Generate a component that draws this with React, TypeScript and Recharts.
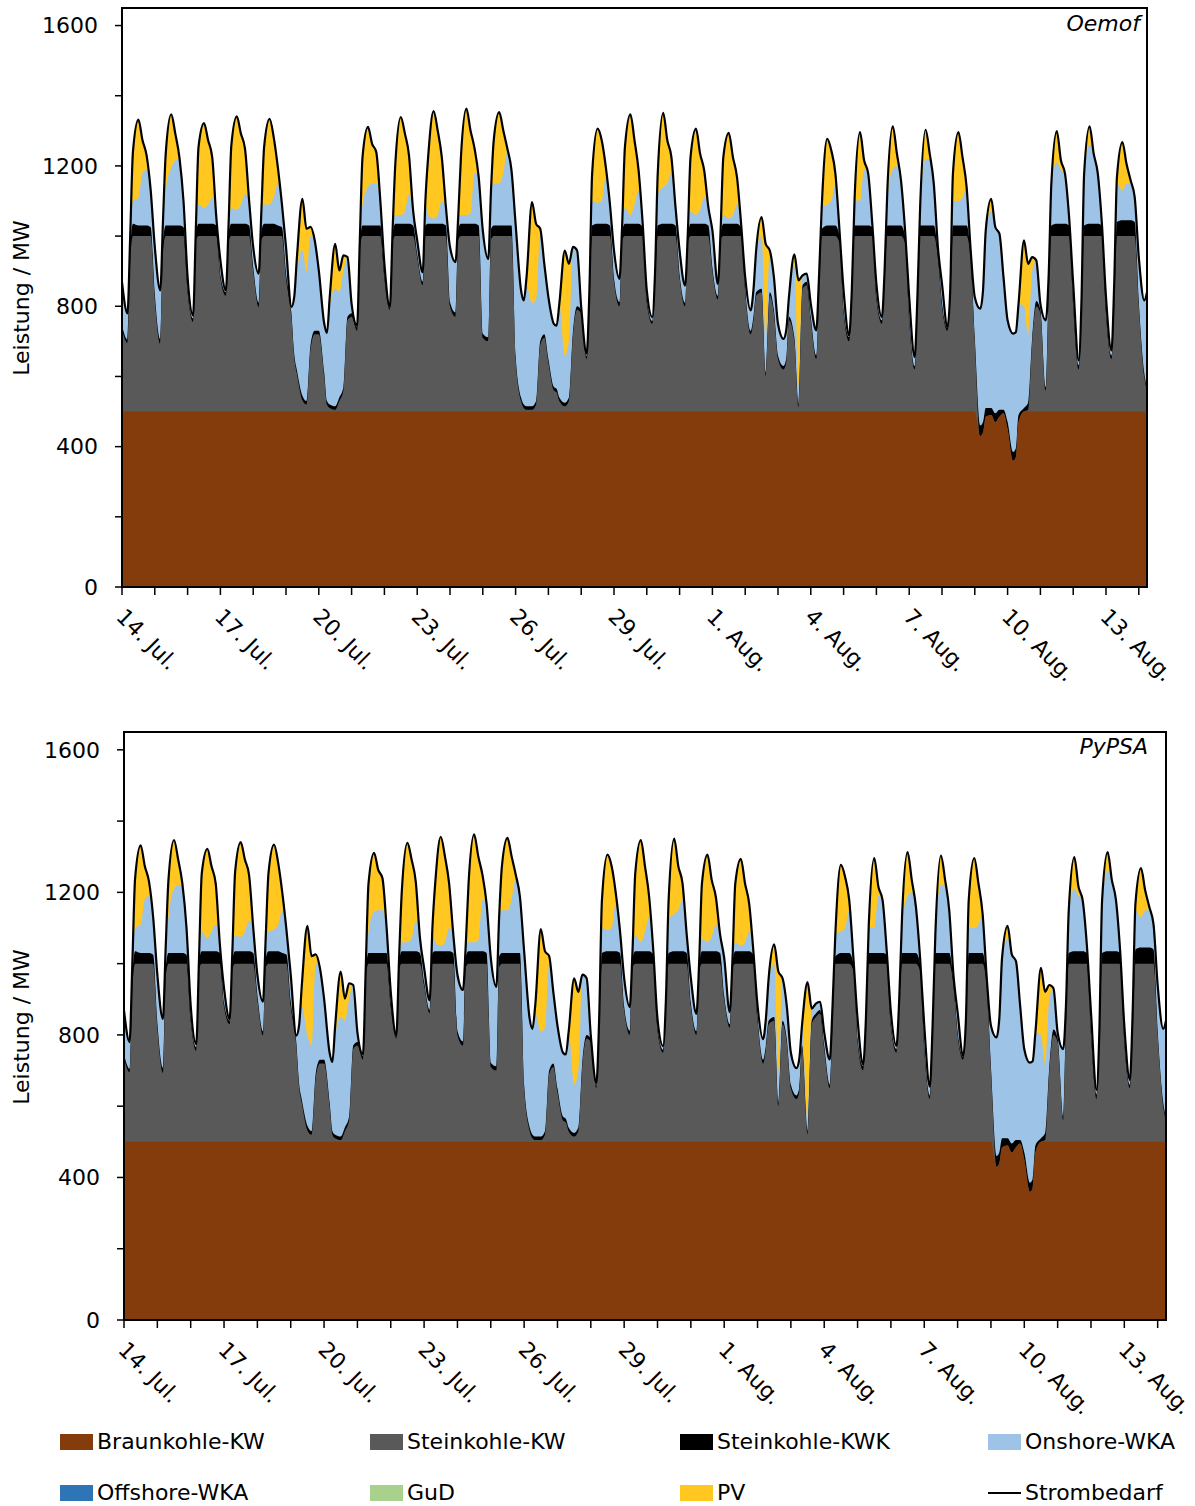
import { Area, ComposedChart, Line, ReferenceArea, XAxis, YAxis } from 'recharts';

// Sample hours inside each day (read at these hours from the reference)
const sampleHours = [0, 4, 6, 8, 12, 15, 18, 21];
const dayCount = 31; // 14. Jul. .. 13. Aug.
const lastDayHours = [0, 4, 6]; // chart ends 14. Aug. 06:00

const hours: number[] = [];
for (let d = 0; d < dayCount; d++) for (const h of sampleHours) hours.push(d * 24 + h);
for (const h of lastDayHours) hours.push(dayCount * 24 + h);

const tickLabels = ['14. Jul.', '17. Jul.', '20. Jul.', '23. Jul.', '26. Jul.', '29. Jul.', '1. Aug.', '4. Aug.', '7. Aug.', '10. Aug.', '13. Aug.'];
const yTicks = [0, 200, 400, 600, 800, 1000, 1200, 1400, 1600];

// Strombedarf / MW (same input for both models)
const strombedarf = [
  869, 780, 1000, 1240, 1332, 1273, 1230, 1130,
  969, 845, 1045, 1235, 1347, 1292, 1225, 1100,
  883, 774, 1016, 1254, 1322, 1273, 1225, 1054,
  931, 845, 1035, 1258, 1341, 1292, 1249, 1102,
  969, 893, 1073, 1254, 1334, 1282, 1197, 1092,
  969, 798, 826, 940, 1106, 1021, 1026, 988,
  902, 750, 724, 826, 978, 902, 945, 940,
  807, 745, 988, 1225, 1311, 1263, 1240, 1102,
  921, 798, 1016, 1206, 1339, 1292, 1230, 1073,
  988, 897, 1102, 1225, 1356, 1301, 1225, 1083,
  969, 926, 1054, 1225, 1363, 1301, 1249, 1168,
  1016, 935, 1130, 1273, 1353, 1301, 1249, 1187,
  1035, 845, 817, 883, 1097, 1035, 1021, 921,
  826, 750, 745, 807, 959, 921, 969, 959,
  798, 665, 845, 1178, 1306, 1273, 1197, 1092,
  959, 878, 1035, 1254, 1347, 1273, 1187, 1035,
  845, 769, 893, 1178, 1351, 1273, 1225, 1083,
  959, 859, 1007, 1225, 1306, 1235, 1187, 1083,
  1016, 864, 1016, 1225, 1294, 1225, 1168, 1035,
  883, 788, 845, 959, 1054, 978, 959, 883,
  750, 707, 731, 826, 948, 874, 888, 893,
  807, 731, 883, 1083, 1277, 1244, 1178, 1016,
  845, 717, 845, 1102, 1296, 1216, 1178, 1035,
  864, 769, 902, 1130, 1313, 1235, 1159, 1016,
  826, 655, 826, 1083, 1303, 1235, 1149, 969,
  864, 741, 845, 1178, 1296, 1225, 1140, 959,
  826, 793, 845, 1016, 1106, 1026, 1007, 883,
  760, 722, 726, 807, 988, 921, 940, 931,
  807, 760, 883, 1149, 1299, 1216, 1178, 1054,
  864, 646, 807, 1178, 1313, 1235, 1178, 1035,
  826, 674, 864, 1168, 1268, 1206, 1159, 1111,
  940, 817, 840,
];

// Upper edge of the Braunkohle-KW band / MW
const braunkohleTop = [
  500, 500, 500, 500, 500, 500, 500, 500,
  500, 500, 500, 500, 500, 500, 500, 500,
  500, 500, 500, 500, 500, 500, 500, 500,
  500, 500, 500, 500, 500, 500, 500, 500,
  500, 500, 500, 500, 500, 500, 500, 500,
  500, 500, 500, 500, 500, 500, 500, 500,
  500, 500, 500, 500, 500, 500, 500, 500,
  500, 500, 500, 500, 500, 500, 500, 500,
  500, 500, 500, 500, 500, 500, 500, 500,
  500, 500, 500, 500, 500, 500, 500, 500,
  500, 500, 500, 500, 500, 500, 500, 500,
  500, 500, 500, 500, 500, 500, 500, 500,
  500, 500, 500, 500, 500, 500, 500, 500,
  500, 500, 500, 500, 500, 500, 500, 500,
  500, 500, 500, 500, 500, 500, 500, 500,
  500, 500, 500, 500, 500, 500, 500, 500,
  500, 500, 500, 500, 500, 500, 500, 500,
  500, 500, 500, 500, 500, 500, 500, 500,
  500, 500, 500, 500, 500, 500, 500, 500,
  500, 500, 500, 500, 500, 500, 500, 500,
  500, 500, 500, 500, 500, 500, 500, 500,
  500, 500, 500, 500, 500, 500, 500, 500,
  500, 500, 500, 500, 500, 500, 500, 500,
  500, 500, 500, 500, 500, 500, 500, 500,
  500, 500, 500, 500, 500, 500, 500, 500,
  500, 500, 500, 500, 500, 500, 500, 500,
  500, 430, 440, 485, 490, 470, 485, 495,
  450, 360, 370, 470, 500, 500, 500, 500,
  500, 500, 500, 500, 500, 500, 500, 500,
  500, 500, 500, 500, 500, 500, 500, 500,
  500, 500, 500, 500, 500, 500, 500, 500,
  500, 500, 500,
];

// Oemof: upper edges of Steinkohle-KW, Steinkohle-KWK and Onshore-WKA / MW
const oemofSteinkohleTop = [
  735, 695, 930, 1000, 1000, 1000, 1000, 1000,
  820, 693, 960, 1000, 1000, 1000, 1000, 1000,
  840, 755, 985, 1000, 1000, 1000, 1000, 1000,
  880, 830, 985, 1000, 1000, 1000, 1000, 1000,
  900, 798, 990, 1000, 1000, 1000, 1000, 1000,
  880, 770, 655, 608, 532, 520, 680, 720,
  720, 600, 520, 510, 505, 530, 560, 760,
  770, 730, 960, 1000, 1000, 1000, 1000, 1000,
  880, 790, 985, 1000, 1000, 1000, 1000, 1000,
  940, 860, 1000, 1000, 1000, 1000, 1000, 1000,
  800, 770, 990, 1000, 1000, 1000, 1000, 1000,
  710, 700, 990, 1000, 1000, 1000, 1000, 1000,
  650, 530, 510, 505, 505, 520, 690, 710,
  640, 560, 555, 530, 515, 530, 720, 790,
  780, 650, 830, 1000, 1000, 1000, 1000, 1000,
  870, 800, 990, 1000, 1000, 1000, 1000, 1000,
  810, 750, 870, 1000, 1000, 1000, 1000, 1000,
  880, 800, 980, 1000, 1000, 1000, 1000, 1000,
  900, 820, 990, 1000, 1000, 1000, 1000, 1000,
  840, 720, 760, 830, 840, 600, 830, 780,
  650, 620, 640, 760, 700, 510, 850, 860,
  760, 650, 830, 1000, 1000, 1000, 1000, 980,
  780, 700, 820, 1000, 1000, 1000, 1000, 1000,
  820, 750, 880, 1000, 1000, 1000, 1000, 980,
  760, 620, 800, 1000, 1000, 1000, 1000, 940,
  800, 730, 820, 1000, 1000, 1000, 1000, 930,
  700, 430, 440, 485, 490, 470, 485, 495,
  450, 360, 370, 470, 500, 505, 700, 800,
  780, 560, 830, 1000, 1000, 1000, 1000, 1000,
  800, 620, 780, 1000, 1000, 1000, 1000, 1000,
  780, 650, 800, 1000, 1000, 1000, 1000, 1000,
  800, 600, 560,
];

const oemofKwkTop = [
  745, 705, 960, 1035, 1030, 1030, 1030, 1025,
  835, 707, 985, 1030, 1030, 1030, 1030, 1025,
  850, 765, 1005, 1035, 1035, 1035, 1035, 1030,
  890, 840, 1010, 1035, 1035, 1035, 1035, 1030,
  912, 810, 1015, 1035, 1035, 1035, 1030, 1025,
  895, 780, 665, 618, 545, 530, 692, 730,
  730, 610, 530, 520, 515, 540, 570, 770,
  780, 740, 975, 1030, 1030, 1030, 1030, 1030,
  890, 795, 1005, 1035, 1035, 1035, 1035, 1030,
  950, 870, 1030, 1035, 1035, 1035, 1035, 1030,
  812, 782, 1020, 1035, 1035, 1035, 1035, 1030,
  722, 712, 1020, 1030, 1030, 1030, 1030, 1030,
  660, 540, 520, 515, 515, 530, 700, 720,
  650, 570, 565, 540, 525, 540, 730, 800,
  790, 658, 840, 1030, 1035, 1035, 1035, 1030,
  880, 812, 1015, 1035, 1035, 1035, 1035, 1025,
  820, 758, 880, 1030, 1035, 1035, 1035, 1030,
  890, 810, 995, 1035, 1035, 1035, 1035, 1030,
  910, 830, 1005, 1035, 1035, 1035, 1035, 1025,
  850, 730, 770, 840, 850, 610, 840, 790,
  660, 630, 650, 770, 710, 520, 860, 870,
  770, 660, 845, 1020, 1030, 1030, 1030, 1000,
  790, 712, 830, 1030, 1030, 1030, 1030, 1025,
  830, 760, 890, 1030, 1030, 1030, 1030, 1000,
  770, 630, 810, 1030, 1030, 1030, 1030, 955,
  810, 738, 830, 1030, 1030, 1030, 1030, 945,
  710, 460, 470, 510, 510, 495, 505, 505,
  470, 385, 395, 490, 510, 525, 710, 815,
  790, 570, 845, 1030, 1035, 1035, 1035, 1030,
  810, 632, 790, 1030, 1035, 1035, 1035, 1030,
  790, 660, 810, 1040, 1045, 1045, 1045, 1040,
  812, 610, 570,
];

const oemofOnshoreTop = [
  869, 780, 1000, 1100, 1110, 1180, 1190, 1130,
  969, 845, 1045, 1130, 1195, 1215, 1220, 1100,
  883, 774, 1016, 1090, 1080, 1090, 1110, 1054,
  931, 845, 1035, 1080, 1075, 1090, 1120, 1102,
  969, 893, 1073, 1090, 1090, 1110, 1150, 1092,
  969, 798, 826, 900, 960, 900, 1000, 988,
  902, 750, 724, 800, 850, 840, 900, 940,
  807, 745, 988, 1090, 1140, 1150, 1150, 1102,
  921, 798, 1016, 1060, 1060, 1070, 1120, 1073,
  988, 897, 1090, 1060, 1050, 1060, 1100, 1083,
  969, 926, 1054, 1060, 1060, 1065, 1180, 1168,
  1016, 935, 1130, 1150, 1150, 1180, 1240, 1187,
  1035, 845, 817, 860, 810, 820, 1000, 921,
  826, 750, 745, 807, 660, 700, 969, 959,
  798, 665, 845, 1100, 1095, 1100, 1170, 1092,
  959, 878, 1035, 1080, 1060, 1090, 1130, 1035,
  845, 769, 893, 1120, 1140, 1150, 1180, 1083,
  959, 859, 1007, 1070, 1060, 1075, 1110, 1083,
  1016, 864, 1016, 1060, 1050, 1060, 1090, 1035,
  883, 788, 845, 959, 1000, 700, 959, 883,
  750, 707, 731, 826, 920, 570, 888, 893,
  807, 731, 883, 1083, 1090, 1100, 1150, 1016,
  845, 717, 845, 1102, 1100, 1190, 1178, 1035,
  864, 769, 902, 1110, 1190, 1200, 1159, 1016,
  826, 655, 826, 1083, 1220, 1220, 1149, 969,
  864, 741, 845, 1100, 1100, 1110, 1140, 959,
  826, 793, 845, 1016, 1070, 1026, 1007, 883,
  760, 722, 726, 807, 800, 720, 900, 931,
  807, 760, 883, 1149, 1210, 1190, 1178, 1054,
  864, 646, 807, 1178, 1260, 1235, 1178, 1035,
  826, 674, 864, 1150, 1130, 1150, 1150, 1111,
  940, 817, 840,
];

// PyPSA: upper edges of Steinkohle-KW, Steinkohle-KWK and Onshore-WKA / MW
const pypsaSteinkohleTop = [
  735, 695, 930, 1000, 1000, 1000, 1000, 1000,
  820, 693, 960, 1000, 1000, 1000, 1000, 1000,
  840, 755, 985, 1000, 1000, 1000, 1000, 1000,
  880, 830, 985, 1000, 1000, 1000, 1000, 1000,
  900, 798, 990, 1000, 1000, 1000, 1000, 1000,
  880, 770, 655, 608, 532, 520, 680, 720,
  720, 600, 520, 510, 505, 530, 560, 760,
  770, 730, 960, 1000, 1000, 1000, 1000, 1000,
  880, 790, 985, 1000, 1000, 1000, 1000, 1000,
  940, 860, 1000, 1000, 1000, 1000, 1000, 1000,
  800, 770, 990, 1000, 1000, 1000, 1000, 1000,
  710, 700, 990, 1000, 1000, 1000, 1000, 1000,
  650, 530, 510, 505, 505, 520, 690, 710,
  640, 560, 555, 530, 515, 530, 720, 790,
  780, 650, 830, 1000, 1000, 1000, 1000, 1000,
  870, 800, 990, 1000, 1000, 1000, 1000, 1000,
  810, 750, 870, 1000, 1000, 1000, 1000, 1000,
  880, 800, 980, 1000, 1000, 1000, 1000, 1000,
  900, 820, 990, 1000, 1000, 1000, 1000, 1000,
  840, 720, 760, 830, 840, 600, 830, 780,
  650, 620, 640, 760, 520, 830, 850, 860,
  760, 650, 830, 1000, 1000, 1000, 1000, 980,
  780, 700, 820, 1000, 1000, 1000, 1000, 1000,
  820, 750, 880, 1000, 1000, 1000, 1000, 980,
  760, 620, 800, 1000, 1000, 1000, 1000, 940,
  800, 730, 820, 1000, 1000, 1000, 1000, 930,
  700, 430, 440, 485, 490, 470, 485, 495,
  450, 360, 370, 470, 500, 505, 700, 800,
  780, 560, 830, 1000, 1000, 1000, 1000, 1000,
  800, 620, 780, 1000, 1000, 1000, 1000, 1000,
  780, 650, 800, 1000, 1000, 1000, 1000, 1000,
  800, 600, 560,
];

const pypsaKwkTop = [
  745, 705, 960, 1035, 1030, 1030, 1030, 1025,
  835, 707, 985, 1030, 1030, 1030, 1030, 1025,
  850, 765, 1005, 1035, 1035, 1035, 1035, 1030,
  890, 840, 1010, 1035, 1035, 1035, 1035, 1030,
  912, 810, 1015, 1035, 1035, 1035, 1030, 1025,
  895, 780, 665, 618, 545, 530, 692, 730,
  730, 610, 530, 520, 515, 540, 570, 770,
  780, 740, 975, 1030, 1030, 1030, 1030, 1030,
  890, 795, 1005, 1035, 1035, 1035, 1035, 1030,
  950, 870, 1030, 1035, 1035, 1035, 1035, 1030,
  812, 782, 1020, 1035, 1035, 1035, 1035, 1030,
  722, 712, 1020, 1030, 1030, 1030, 1030, 1030,
  660, 540, 520, 515, 515, 530, 700, 720,
  650, 570, 565, 540, 525, 540, 730, 800,
  790, 658, 840, 1030, 1035, 1035, 1035, 1030,
  880, 812, 1015, 1035, 1035, 1035, 1035, 1025,
  820, 758, 880, 1030, 1035, 1035, 1035, 1030,
  890, 810, 995, 1035, 1035, 1035, 1035, 1030,
  910, 830, 1005, 1035, 1035, 1035, 1035, 1025,
  850, 730, 770, 840, 850, 610, 840, 790,
  660, 630, 650, 770, 530, 840, 860, 870,
  770, 660, 845, 1020, 1030, 1030, 1030, 1000,
  790, 712, 830, 1030, 1030, 1030, 1030, 1025,
  830, 760, 890, 1030, 1030, 1030, 1030, 1000,
  770, 630, 810, 1030, 1030, 1030, 1030, 955,
  810, 738, 830, 1030, 1030, 1030, 1030, 945,
  710, 460, 470, 510, 510, 495, 505, 505,
  470, 385, 395, 490, 510, 525, 710, 815,
  790, 570, 845, 1030, 1035, 1035, 1035, 1030,
  810, 632, 790, 1030, 1035, 1035, 1035, 1030,
  790, 660, 810, 1040, 1045, 1045, 1045, 1040,
  812, 610, 570,
];

const pypsaOnshoreTop = [
  869, 780, 1000, 1100, 1110, 1180, 1190, 1130,
  969, 845, 1045, 1130, 1210, 1220, 1220, 1100,
  883, 774, 1016, 1090, 1070, 1090, 1110, 1054,
  931, 845, 1035, 1080, 1075, 1090, 1120, 1102,
  969, 893, 1073, 1090, 1095, 1110, 1150, 1092,
  969, 798, 826, 880, 800, 770, 1000, 988,
  902, 750, 724, 800, 850, 840, 900, 940,
  807, 745, 988, 1090, 1145, 1150, 1150, 1102,
  921, 798, 1016, 1060, 1060, 1070, 1120, 1073,
  988, 897, 1090, 1060, 1050, 1060, 1100, 1083,
  969, 926, 1054, 1060, 1060, 1065, 1180, 1168,
  1016, 935, 1130, 1150, 1150, 1180, 1240, 1187,
  1035, 845, 817, 860, 810, 820, 1000, 921,
  826, 750, 745, 807, 660, 700, 969, 959,
  798, 665, 845, 1100, 1095, 1100, 1170, 1092,
  959, 878, 1035, 1080, 1060, 1090, 1130, 1035,
  845, 769, 893, 1120, 1140, 1150, 1180, 1083,
  959, 859, 1007, 1070, 1060, 1075, 1110, 1083,
  1016, 864, 1016, 1060, 1050, 1060, 1090, 1035,
  883, 788, 845, 959, 1000, 700, 959, 883,
  750, 707, 731, 826, 560, 874, 888, 893,
  807, 731, 883, 1083, 1090, 1100, 1150, 1016,
  845, 717, 845, 1102, 1100, 1190, 1178, 1035,
  864, 769, 902, 1110, 1190, 1200, 1159, 1016,
  826, 655, 826, 1083, 1220, 1220, 1149, 969,
  864, 741, 845, 1100, 1100, 1110, 1140, 959,
  826, 793, 845, 1016, 1070, 1026, 1007, 883,
  760, 722, 726, 807, 800, 720, 900, 931,
  807, 760, 883, 1149, 1210, 1190, 1178, 1054,
  864, 646, 807, 1178, 1260, 1235, 1178, 1035,
  826, 674, 864, 1150, 1130, 1150, 1150, 1111,
  940, 817, 840,
];

const FONT = '"DejaVu Sans", Verdana, sans-serif';
const COLORS = {
  braunkohle: '#843C0C',
  steinkohle: '#595959',
  kwk: '#000000',
  onshore: '#9DC3E6',
  offshore: '#2E75B6',
  gud: '#A9D18E',
  pv: '#FFC720',
};

const dayTicks: number[] = [];
for (let d = 0; d <= dayCount; d++) dayTicks.push(d * 24);
const labelByHour = new Map<number, string>();
tickLabels.forEach((l, i) => labelByHour.set(i * 72, l));

function buildRows(stein: number[], kwk: number[], onshore: number[]) {
  return hours.map((t, i) => ({
    t,
    strombedarf: strombedarf[i],
    braunkohle: braunkohleTop[i],
    steinkohle: stein[i],
    kwk: kwk[i],
    onshore: onshore[i],
  }));
}

const oemofRows = buildRows(oemofSteinkohleTop, oemofKwkTop, oemofOnshoreTop);
const pypsaRows = buildRows(pypsaSteinkohleTop, pypsaKwkTop, pypsaOnshoreTop);

function DateTick(props: any) {
  const { x, y, payload } = props;
  const label = labelByHour.get(payload.value);
  if (!label) return <g />;
  const tx = x - 7;
  const ty = y + 21;
  return (
    <text x={tx} y={ty} transform={`rotate(45 ${tx} ${ty})`} fontSize={22} fontFamily={FONT} fill="#000">
      {label}
    </text>
  );
}

interface PanelProps {
  top: number;
  rows: ReturnType<typeof buildRows>;
  title: string;
  titleRight: number;
  titleTop: number;
  margin: { top: number; right: number; bottom: number; left: number };
  yAxisWidth: number;
  xAxisHeight: number;
  axisTitleY: number;
}

function Panel({ top, rows, title, titleRight, titleTop, margin, yAxisWidth, xAxisHeight, axisTitleY }: PanelProps) {
  return (
    <div style={{ position: 'absolute', left: 0, top, width: 1195, height: 700 }}>
      <ComposedChart width={1195} height={700} data={rows} margin={margin}>
        <XAxis
          dataKey="t"
          type="number"
          domain={[0, 750]}
          ticks={dayTicks}
          interval={0}
          allowDataOverflow
          height={xAxisHeight}
          tick={(p: any) => <DateTick {...p} />}
          tickSize={8}
          tickMargin={2}
          axisLine={{ stroke: '#000', strokeWidth: 2 }}
          tickLine={{ stroke: '#000', strokeWidth: 1.5 }}
        />
        <YAxis
          type="number"
          domain={[0, 1650]}
          ticks={yTicks}
          interval={0}
          allowDataOverflow
          width={yAxisWidth}
          tickSize={7}
          tickMargin={17}
          tickFormatter={(v: number) => (v % 400 === 0 ? String(v) : '')}
          tick={{ fontSize: 22, fill: '#000', fontFamily: FONT }}
          axisLine={{ stroke: '#000', strokeWidth: 2 }}
          tickLine={{ stroke: '#000', strokeWidth: 1.5 }}
        />
        {/* upper edges drawn back to front: PV shows between Onshore top and Strombedarf */}
        <Area type="monotone" dataKey="strombedarf" name="PV" fill={COLORS.pv} fillOpacity={1} stroke="none" isAnimationActive={false} />
        <Area type="monotone" dataKey="onshore" name="Onshore-WKA" fill={COLORS.onshore} fillOpacity={1} stroke="none" isAnimationActive={false} />
        <Area type="monotone" dataKey="kwk" name="Steinkohle-KWK" fill={COLORS.kwk} fillOpacity={1} stroke="none" isAnimationActive={false} />
        <Area type="monotone" dataKey="steinkohle" name="Steinkohle-KW" fill={COLORS.steinkohle} fillOpacity={1} stroke="none" isAnimationActive={false} />
        <Area type="monotone" dataKey="braunkohle" name="Braunkohle-KW" fill={COLORS.braunkohle} fillOpacity={1} stroke="none" isAnimationActive={false} />
        <Line type="monotone" dataKey="strombedarf" name="Strombedarf" stroke="#000" strokeWidth={2.2} dot={false} activeDot={false} isAnimationActive={false} />
        <ReferenceArea x1={0} x2={750} y1={0} y2={1650} fill="none" stroke="#000" strokeWidth={2} ifOverflow="visible" />
      </ComposedChart>
      <div
        style={{
          position: 'absolute',
          right: titleRight,
          top: titleTop,
          fontSize: 22,
          lineHeight: 1,
          fontStyle: 'italic',
          fontFamily: FONT,
          color: '#000',
        }}
      >
        {title}
      </div>
      <div
        style={{
          position: 'absolute',
          left: 22,
          top: axisTitleY,
          transform: 'translate(-50%, -50%) rotate(-90deg)',
          whiteSpace: 'nowrap',
          fontSize: 22,
          lineHeight: 1,
          fontFamily: FONT,
          color: '#000',
        }}
      >
        Leistung / MW
      </div>
    </div>
  );
}

const legendItems = [
  { name: 'Braunkohle-KW', color: COLORS.braunkohle, line: false },
  { name: 'Steinkohle-KW', color: COLORS.steinkohle, line: false },
  { name: 'Steinkohle-KWK', color: COLORS.kwk, line: false },
  { name: 'Onshore-WKA', color: COLORS.onshore, line: false },
  { name: 'Offshore-WKA', color: COLORS.offshore, line: false },
  { name: 'GuD', color: COLORS.gud, line: false },
  { name: 'PV', color: COLORS.pv, line: false },
  { name: 'Strombedarf', color: '#000', line: true },
];
const legendCols = [60, 370, 680, 988];
const legendRows = [1442, 1493];

export default function App() {
  return (
    <div style={{ position: 'absolute', left: 0, top: 0, width: 1195, height: 1506, background: '#fff', fontFamily: FONT }}>
      <Panel
        top={0}
        rows={oemofRows}
        title="Oemof"
        titleRight={55}
        titleTop={13}
        margin={{ top: 8, right: 48, bottom: 0, left: 0 }}
        yAxisWidth={122}
        xAxisHeight={113}
        axisTitleY={298}
      />
      <Panel
        top={720}
        rows={pypsaRows}
        title="PyPSA"
        titleRight={47}
        titleTop={16}
        margin={{ top: 12, right: 29, bottom: 0, left: 0 }}
        yAxisWidth={124}
        xAxisHeight={100}
        axisTitleY={307}
      />
      {legendItems.map((item, i) => (
        <div
          key={item.name}
          style={{
            position: 'absolute',
            left: legendCols[i % 4],
            top: legendRows[Math.floor(i / 4)] - 11,
            height: 22,
            display: 'flex',
            alignItems: 'center',
            fontSize: 22,
            lineHeight: '22px',
            color: '#000',
            whiteSpace: 'nowrap',
          }}
        >
          <span
            style={{
              display: 'inline-block',
              width: 33,
              height: item.line ? 2 : 16,
              background: item.color,
              marginRight: 4,
            }}
          />
          {item.name}
        </div>
      ))}
    </div>
  );
}
